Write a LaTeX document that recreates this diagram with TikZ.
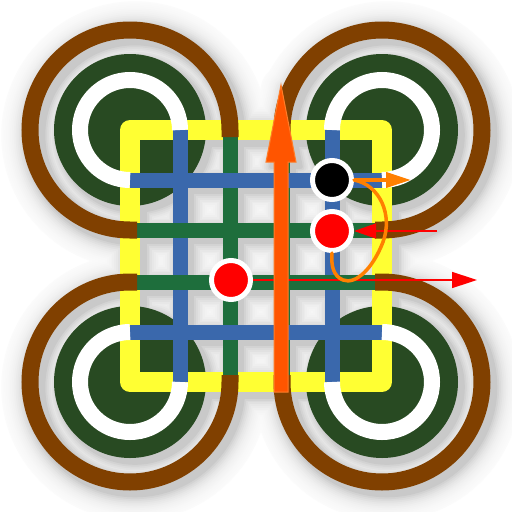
\documentclass[tikz,border=0pt]{standalone}
\usetikzlibrary{arrows.meta}
\definecolor{cbrown}{RGB}{128,64,0}
\definecolor{cdisk}{RGB}{40,74,34}
\definecolor{cgreen}{RGB}{30,110,60}
\definecolor{cblue}{RGB}{58,104,172}
\definecolor{cyellow}{RGB}{255,255,51}
\definecolor{cbigorange}{RGB}{255,85,0}
\definecolor{cbigedge}{RGB}{255,125,40}
\definecolor{corange}{RGB}{255,128,0}
\definecolor{cred}{RGB}{255,0,0}

\newcommand\Disks{\path[diskS] (130,130) circle[radius=76] (382,130) circle[radius=76] (130,382) circle[radius=76] (382,382) circle[radius=76];}
\newcommand\YellowSq{\path[yellowS] (130,130) rectangle (382,382);}
\newcommand\Verticals{\path[blueS] (180,130) -- (180,382) (332,130) -- (332,382);
  \path[greenS] (230,130) -- (230,382) (282,130) -- (282,382);}
\newcommand\Horizontals{\path[blueS] (130,180) -- (382,180) (130,332) -- (382,332);
  \path[greenS] (130,230) -- (382,230) (130,282) -- (382,282);}
\newcommand\WhiteArcs{\path[whiteS] (180,130) arc[start angle=0,end angle=-270,radius=50]
  (332,130) arc[start angle=180,end angle=450,radius=50]
  (382,332) arc[start angle=270,end angle=540,radius=50]
  (130,332) arc[start angle=270,end angle=0,radius=50];}
\newcommand\BrownArcs{\path[brownS] (230,137) -- (230,130) arc[start angle=0,end angle=-270,radius=100] -- (137,230)
  (282,137) -- (282,130) arc[start angle=180,end angle=450,radius=100] -- (375,230)
  (375,282) -- (382,282) arc[start angle=270,end angle=540,radius=100] -- (282,375)
  (137,282) -- (130,282) arc[start angle=270,end angle=0,radius=100] -- (230,375);}
\newcommand\BigArrow{\path[arrowS] (274,392) -- (274,162) -- (266,162) -- (281,85) -- (296,162) -- (288,162) -- (288,392) -- cycle;}

\begin{document}
\begin{tikzpicture}[x=1pt,y=-1pt,
  diskS/.style={fill=cdisk},
  yellowS/.style={draw=cyellow,line width=20pt,line join=round},
  blueS/.style={draw=cblue,line width=15pt},
  greenS/.style={draw=cgreen,line width=15pt},
  whiteS/.style={draw=white,line width=16pt},
  brownS/.style={draw=cbrown,line width=17pt},
  arrowS/.style={fill=cbigorange,draw=cbigedge,line width=1pt,line join=miter},
  dotS/.style={circle,draw=white,line width=5pt,minimum size=39pt,inner sep=0pt},
  oline/.style={draw=corange,line width=4pt},
  oloop/.style={draw=corange,line width=3.5pt,line cap=round},
  rline/.style={draw=cred,line width=1.5pt}]
\useasboundingbox (0,0) rectangle (512,512);
\fill[white] (0,0) rectangle (512,512);

% soft drop shadows
\begin{scope}[shift={(5,5)}]
\foreach \k in {14,13,...,1}{
  \pgfmathsetmacro\d{26*exp(-0.2*\k)}
  \pgfmathsetmacro\ex{3.6*\k}
  \pgfmathsetmacro\wy{20+\ex}
  \pgfmathsetmacro\wl{15+\ex}
  \pgfmathsetmacro\ww{16+\ex}
  \pgfmathsetmacro\wb{17+\ex}
  \tikzset{
    diskS/.style={fill=black!\d,draw=black!\d,line width=\ex pt},
    yellowS/.style={draw=black!\d,line width=\wy pt,line join=round},
    blueS/.style={draw=black!\d,line width=\wl pt,line cap=round},
    greenS/.style={draw=black!\d,line width=\wl pt,line cap=round},
    whiteS/.style={draw=black!\d,line width=\ww pt,line cap=round},
    brownS/.style={draw=black!\d,line width=\wb pt,line cap=round},
    arrowS/.style={fill=black!\d,draw=black!\d,line width=\ex pt,line join=round}}
  \Disks
  \YellowSq
  \Verticals
  \Horizontals
  \WhiteArcs
  \BrownArcs
  \BigArrow
}
\end{scope}

\Disks
\YellowSq
\Verticals
\Horizontals
\WhiteArcs
\BrownArcs

\node[dotS,fill=black] (b) at (332,180) {};
\node[dotS,fill=cred] (r1) at (332,231) {};
\node[dotS,fill=cred] (r2) at (231,280) {};

\coordinate (rEnd) at (477,280);
\draw[rline,-{Triangle[length=25pt,width=16pt]}] (r2.east) -- (rEnd);

\BigArrow

\coordinate (rStart) at (437,231);
\draw[rline,-{Triangle[length=22pt,width=15pt]}] (rStart) -- (r1.east);

\draw[oloop] (b.east) .. controls (380,185) and (393,215) .. (383,242)
  .. controls (373,268) and (356,285) .. (343,280)
  .. controls (333,276) and (331,265) .. (r1.south);
\coordinate (oEnd) at (411,180);
\draw[oline,-{Triangle[length=25pt,width=15pt]}] (b.east) -- (oEnd);
\end{tikzpicture}
\end{document}
